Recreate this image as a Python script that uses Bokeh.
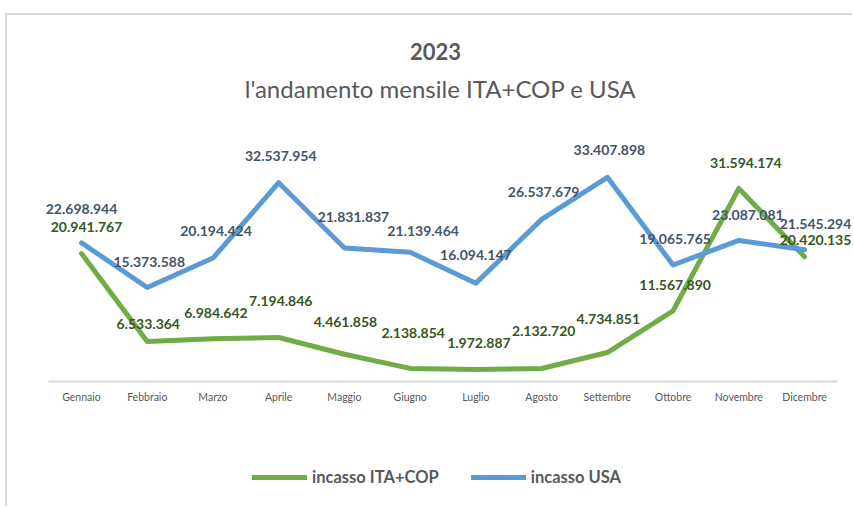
from bokeh.plotting import figure
from bokeh.models import ColumnDataSource, Range1d, FixedTicker, Label, Legend, LegendItem
from bokeh.core.properties import value
from bokeh.embed import file_html
from bokeh.resources import INLINE

months = ["Gennaio", "Febbraio", "Marzo", "Aprile", "Maggio", "Giugno",
          "Luglio", "Agosto", "Settembre", "Ottobre", "Novembre", "Dicembre"]
ita_cop = [20941767, 6533364, 6984642, 7194846, 4461858, 2138854,
           1972887, 2132720, 4734851, 11567890, 31594174, 20420135]
usa = [22698944, 15373588, 20194424, 32537954, 21831837, 21139464,
       16094147, 26537679, 33407898, 19065765, 23087081, 21545294]

title_text = "2023"
subtitle_text = "l'andamento mensile ITA+COP e USA"
series_names = ["incasso ITA+COP", "incasso USA"]

# data-label placement (screen px relative to the point), as in the reference
ita_lab_dx = [5, 1, 3, 2, 1, 3, 3, 2, 1, 2, 7, 11]
ita_lab_dy = [-27, -18, -26, -37, -32, -35, -26, -37, -34, -26, -25, -17]
usa_lab_dx = [0, 2, 3, 2, 9, 13, 0, 2, 2, 2, 9, 11]
usa_lab_dy = [-34, -26, -27, -27, -31, -21, -28, -27, -27, -26, -25, -26]


def fmt(v):
    return f"{v:,}".replace(",", ".")


idx = list(range(len(months)))
src_ita = ColumnDataSource(dict(x=idx, y=ita_cop, lab=[fmt(v) for v in ita_cop],
                                dx=ita_lab_dx, dy=ita_lab_dy))
src_usa = ColumnDataSource(dict(x=idx, y=usa, lab=[fmt(v) for v in usa],
                                dx=usa_lab_dx, dy=usa_lab_dy))

FONT = "Lato"
GREEN = "#70AD47"
BLUE = "#5B9BD5"
GRAY = "#595959"

p = figure(width=847, height=493,
           x_range=Range1d(-1.126, 11.76), y_range=Range1d(-20.79e6, 59.9e6),
           min_border_left=0, min_border_right=0, min_border_top=0, min_border_bottom=0,
           y_axis_location=None, output_backend="svg", toolbar_location=None)
p.styles = {"margin-left": "5px", "margin-top": "13px",
            "border-left": "2px solid #D9D9D9", "border-top": "2px solid #D9D9D9"}
p.outline_line_color = None
p.xgrid.visible = False
p.ygrid.visible = False
p.background_fill_color = "white"
p.border_fill_color = "white"

ax = p.xaxis[0]
ax.fixed_location = 0
ax.ticker = FixedTicker(ticks=idx)
ax.major_label_overrides = {i: m for i, m in enumerate(months)}
ax.bounds = (-0.5, 11.5)
ax.axis_line_color = "#D9D9D9"
ax.axis_line_width = 2
ax.major_tick_line_color = None
ax.minor_tick_line_color = None
ax.major_tick_out = 0
ax.major_tick_in = 0
ax.major_label_standoff = 10
ax.major_label_text_font = FONT
ax.major_label_text_font_size = "10.5px"
ax.major_label_text_color = GRAY

r_ita = p.line("x", "y", source=src_ita, line_color=GREEN, line_width=5,
               line_join="round", line_cap="round")
r_usa = p.line("x", "y", source=src_usa, line_color=BLUE, line_width=5,
               line_join="round", line_cap="round")

p.text("x", "y", text="lab", source=src_ita, text_align="center", text_baseline="middle",
       x_offset="dx", y_offset="dy", text_font=value(FONT), text_font_size="14px",
       text_font_style="bold", text_color="#375623")
p.text("x", "y", text="lab", source=src_usa, text_align="center", text_baseline="middle",
       x_offset="dx", y_offset="dy", text_font=value(FONT), text_font_size="14px",
       text_font_style="bold", text_color="#44546A")

p.add_layout(Label(x=428, y=457, x_units="screen", y_units="screen", text=title_text,
                   text_align="center", text_baseline="middle", text_font=FONT,
                   text_font_size="22px", text_font_style="bold", text_color=GRAY))
p.add_layout(Label(x=433, y=420, x_units="screen", y_units="screen", text=subtitle_text,
                   text_align="center", text_baseline="middle", text_font=FONT,
                   text_font_size="24px", text_color=GRAY))

legend = Legend(items=[LegendItem(label=series_names[0], renderers=[r_ita]),
                       LegendItem(label=series_names[1], renderers=[r_usa])],
                location=(245, 21), orientation="horizontal",
                glyph_width=55, glyph_height=20, label_standoff=5, spacing=32,
                padding=0, margin=0, border_line_color=None, background_fill_alpha=0,
                label_text_font=FONT, label_text_font_size="16.5px",
                label_text_font_style="bold", label_text_color=GRAY)
p.add_layout(legend, "center")

open("out.html", "w").write(file_html(p, INLINE))
